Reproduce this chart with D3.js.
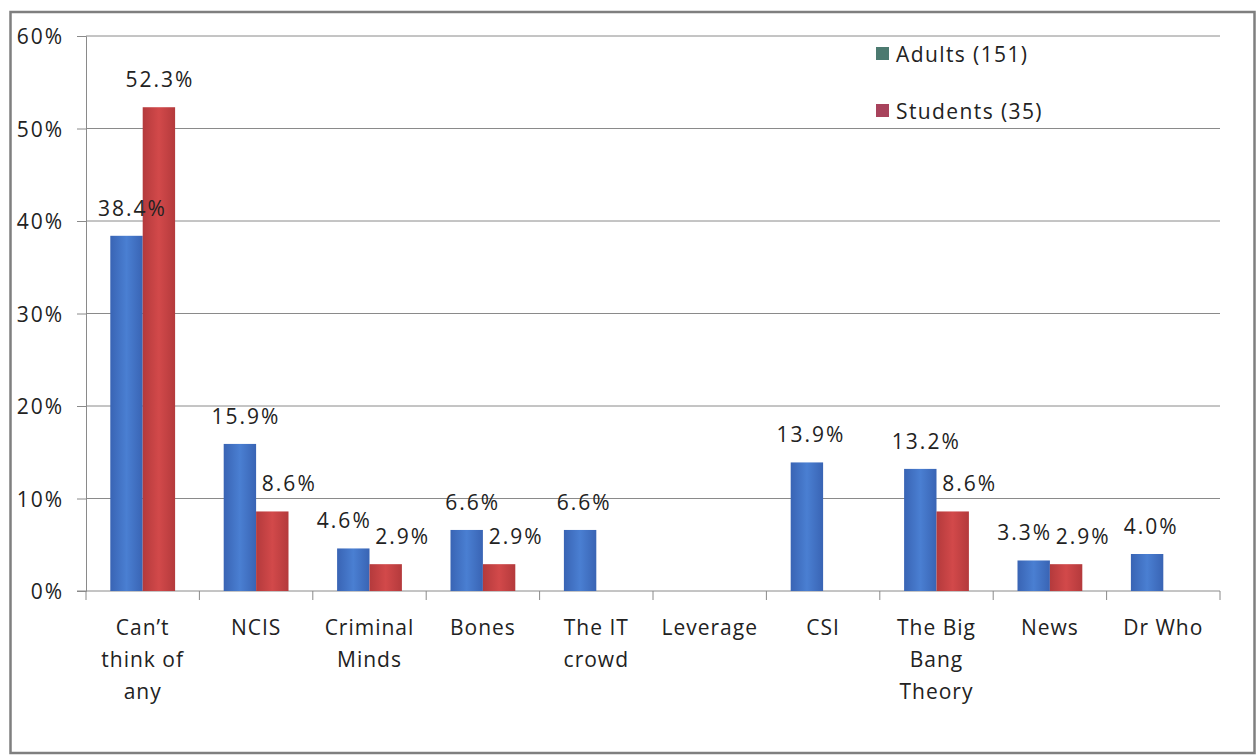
<!DOCTYPE html>
<html>
<head>
<meta charset="utf-8">
<script src="https://cdn.jsdelivr.net/npm/d3@7/dist/d3.min.js"></script>
<style>
  body { margin: 0; background: #fff; }
  text { font-family: "Open Sans", "Noto Sans", sans-serif; fill: #222; }
</style>
</head>
<body>
<div id="chart"></div>
<script>
// data
const categories = [['Can\u2019t', 'think of', 'any'], ['NCIS'], ['Criminal', 'Minds'], ['Bones'], ['The IT', 'crowd'],
    ['Leverage'], ['CSI'], ['The Big', 'Bang', 'Theory'], ['News'], ['Dr Who']]
const adults = [38.4, 15.9, 4.6, 6.6, 6.6, null, 13.9, 13.2, 3.3, 4.0]
const students = [52.3, 8.6, 2.9, 2.9, null, null, null, 8.6, 2.9, null]
const yTicks = [0, 10, 20, 30, 40, 50, 60]
const seriesNames = ['Adults (151)', 'Students (35)']

const width = 1260, height = 756
const margin = {left: 86, right: 40, top: 36, bottom: 165}

const svg = d3.select('#chart')
    .append('svg')
    .attr('width', width)
    .attr('height', height)

// outer frame
svg.append('rect')
    .attr('x', 10.5).attr('y', 12)
    .attr('width', 1244).attr('height', 741)
    .attr('fill', '#fff')
    .attr('stroke', '#7f7f7f')
    .attr('stroke-width', 2.5)

const x = d3.scaleBand()
    .domain(d3.range(categories.length))
    .range([margin.left, width - margin.right])

const y = d3.scaleLinear()
    .domain([0, 60])
    .range([height - margin.bottom, margin.top])

const inner = d3.scaleBand()
    .domain([0, 1])
    .range([0, x.bandwidth()])
    .paddingOuter(0.75)
    .paddingInner(0)

// gradients for the bars, a bit darker at the edges
const defs = svg.append('defs')
const grad = (id, edge, mid) => {
    const g = defs.append('linearGradient').attr('id', id)
        .attr('x1', 0).attr('x2', 1).attr('y1', 0).attr('y2', 0)
    g.append('stop').attr('offset', '0%').attr('stop-color', edge)
    g.append('stop').attr('offset', '50%').attr('stop-color', mid)
    g.append('stop').attr('offset', '100%').attr('stop-color', edge)
}
grad('gBlue', '#3964b4', '#4a7fd2')
grad('gRed', '#b43a3c', '#d2494a')

// gridlines
svg.append('g')
    .selectAll('line')
    .data(yTicks.filter(d => d > 0))
    .enter()
    .append('line')
    .attr('x1', margin.left).attr('x2', width - margin.right)
    .attr('y1', d => y(d)).attr('y2', d => y(d))
    .attr('stroke', '#8a8a8a')
    .attr('stroke-width', 1)

// y axis
const yAxis = svg.append('g')
    .attr('transform', 'translate(' + margin.left + ',0)')
    .call(d3.axisLeft(y).tickValues(yTicks).tickSize(9).tickPadding(13).tickFormat(d => d + '%'))
yAxis.select('.domain').attr('stroke', '#8a8a8a')
yAxis.selectAll('.tick line').attr('stroke', '#8a8a8a')
yAxis.selectAll('.tick text')
    .style('font-size', '21px')
    .style('font-family', '"Open Sans", sans-serif')
    .style('letter-spacing', '2px')
    .attr('fill', '#222')
    .attr('dy', '0.36em')

// x axis line and ticks between categories
const x0 = y(0)
svg.append('line')
    .attr('x1', margin.left - 9).attr('x2', width - margin.right)
    .attr('y1', x0).attr('y2', x0)
    .attr('stroke', '#8a8a8a')
svg.append('g')
    .selectAll('line')
    .data(d3.range(categories.length + 1))
    .enter()
    .append('line')
    .attr('x1', d => x.step() * d + margin.left)
    .attr('x2', d => x.step() * d + margin.left)
    .attr('y1', x0).attr('y2', x0 + 9)
    .attr('stroke', '#8a8a8a')

// category labels
const catText = svg.append('g')
    .selectAll('text')
    .data(categories)
    .enter()
    .append('text')
    .attr('text-anchor', 'middle')
    .style('font-size', '21px')
    .style('letter-spacing', '1px')
    .attr('x', (d, i) => x(i) + x.bandwidth() / 2)
    .attr('y', x0 + 44)
catText.selectAll('tspan')
    .data(d => d)
    .enter()
    .append('tspan')
    .attr('x', function () { return this.parentNode.getAttribute('x') })
    .attr('dy', (d, i) => i === 0 ? 0 : 32)
    .text(d => d)

// bars
const series = [
    {values: adults, fill: 'url(#gBlue)'},
    {values: students, fill: 'url(#gRed)'}
]
const points = series.map(s => s.values
    .map((v, i) => ({v, i}))
    .filter(d => d.v !== null))

series.forEach((s, si) => {
    svg.append('g')
        .selectAll('rect')
        .data(points[si])
        .enter()
        .append('rect')
        .attr('x', d => x(d.i) + inner(si))
        .attr('width', inner.bandwidth())
        .attr('y', d => y(d.v))
        .attr('height', d => y(0) - y(d.v))
        .attr('fill', s.fill)
})

// nudge labels sideways so neighbours in a pair do not collide
const labelShift = (si, d) => {
    const other = si === 0 ? students[d.i] : adults[d.i]
    if (other === null) return si === 0 ? 3 : 0
    if (si === 0) return Math.abs(d.v - other) < 2 ? -10 : 5
    return d.v < other ? 16 : 0
}

// data labels on top of every bar
series.forEach((s, si) => {
    svg.append('g')
        .selectAll('text')
        .data(points[si])
        .enter()
        .append('text')
        .attr('text-anchor', 'middle')
        .style('font-size', '21px')
        .style('letter-spacing', '2px')
        .attr('x', d => x(d.i) + inner(si) + inner.bandwidth() / 2 + labelShift(si, d) + 1)
        .attr('y', d => y(d.v) - 20)
        .text(d => d3.format('.1f')(d.v) + '%')
})

// legend
const legend = svg.append('g')
    .selectAll('g')
    .data(seriesNames)
    .enter()
    .append('g')
    .attr('transform', (d, i) => 'translate(876,' + (47 + i * 57) + ')')
legend.append('rect')
    .attr('width', 13).attr('height', 13)
    .attr('fill', (d, i) => i === 0 ? '#4c7a70' : '#a8435c')
legend.append('text')
    .attr('x', 20).attr('y', 15)
    .style('font-size', '21px')
    .style('letter-spacing', '1.4px')
    .text(d => d)
</script>
</body>
</html>
